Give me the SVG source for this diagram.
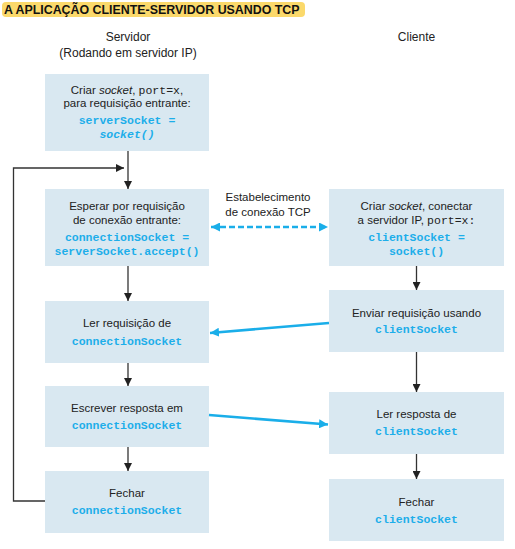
<svg xmlns="http://www.w3.org/2000/svg" width="515" height="549" viewBox="0 0 515 549">
<style>
.box{fill:#d9e8f1}
.t{font-family:"Liberation Sans",Arial,sans-serif;font-size:11.5px;fill:#222;text-anchor:middle}
.h{font-family:"Liberation Sans",Arial,sans-serif;font-size:12px;fill:#222;text-anchor:middle}
.c{font-family:"Liberation Mono","Courier New",monospace;font-size:11.5px;font-weight:bold;fill:#1daeea;text-anchor:middle}
.m{font-family:"Liberation Mono","Courier New",monospace}
.k{stroke:#333;stroke-width:1.3;fill:none}
.b{stroke:#1aaee9;stroke-width:2.6;fill:none}
</style>
<defs>
<marker id="ak" markerUnits="userSpaceOnUse" markerWidth="8" markerHeight="8" refX="8" refY="4" orient="auto"><path d="M0,0 L8,4 L0,8 z" fill="#222"/></marker>
<marker id="ab" markerUnits="userSpaceOnUse" markerWidth="9" markerHeight="9" refX="9" refY="4.5" orient="auto-start-reverse"><path d="M0,0 L9,4.5 L0,9 z" fill="#1aaee9"/></marker>
</defs>
<g id="title">
<rect x="2" y="2" width="303" height="15" rx="4" fill="#fbd96b"/>
<text x="4" y="14" font-family="Liberation Sans,Arial,sans-serif" font-size="12.4px" font-weight="bold" fill="#111">A APLICAÇÃO CLIENTE-SERVIDOR USANDO TCP</text>
</g>
<g id="headers">
<text class="h" x="128" y="40.5">Servidor</text>
<text class="h" x="128" y="57">(Rodando em servidor IP)</text>
<text class="h" x="416.5" y="40.5">Cliente</text>
</g>
<g id="s1">
<rect class="box" x="45" y="74" width="164" height="77"/>
<text class="t" x="127" y="94">Criar <tspan font-style="italic">socket</tspan>, <tspan class="m">port=x</tspan>,</text>
<text class="t" x="127" y="107">para requisição entrante:</text>
<text class="c" x="127" y="124">serverSocket =</text>
<text class="c" x="127" y="138" font-style="italic">socket()</text>
</g>
<g id="s2">
<rect class="box" x="45" y="189" width="164" height="77"/>
<text class="t" x="127" y="210">Esperar por requisição</text>
<text class="t" x="127" y="224">de conexão entrante:</text>
<text class="c" x="127" y="241">connectionSocket =</text>
<text class="c" x="127" y="255">serverSocket.accept()</text>
</g>
<g id="s3">
<rect class="box" x="45" y="301" width="164" height="62"/>
<text class="t" x="127" y="327">Ler requisição de</text>
<text class="c" x="127" y="345">connectionSocket</text>
</g>
<g id="s4">
<rect class="box" x="45" y="386" width="164" height="61"/>
<text class="t" x="127" y="412">Escrever resposta em</text>
<text class="c" x="127" y="429">connectionSocket</text>
</g>
<g id="s5">
<rect class="box" x="45" y="471" width="164" height="62"/>
<text class="t" x="127" y="497">Fechar</text>
<text class="c" x="127" y="514">connectionSocket</text>
</g>
<g id="c1">
<rect class="box" x="329" y="189" width="175" height="77"/>
<text class="t" x="416.5" y="210">Criar <tspan font-style="italic">socket</tspan>, conectar</text>
<text class="t" x="416.5" y="224">a servidor IP, <tspan class="m">port=x:</tspan></text>
<text class="c" x="416.5" y="241">clientSocket =</text>
<text class="c" x="416.5" y="255">socket()</text>
</g>
<g id="c2">
<rect class="box" x="329" y="290" width="175" height="62"/>
<text class="t" x="416.5" y="317">Enviar requisição usando</text>
<text class="c" x="416.5" y="333">clientSocket</text>
</g>
<g id="c3">
<rect class="box" x="329" y="392" width="175" height="62"/>
<text class="t" x="416.5" y="418">Ler resposta de</text>
<text class="c" x="416.5" y="435">clientSocket</text>
</g>
<g id="c4">
<rect class="box" x="329" y="479" width="175" height="62"/>
<text class="t" x="416.5" y="506">Fechar</text>
<text class="c" x="416.5" y="523">clientSocket</text>
</g>
<g id="connectors">
<line class="k" x1="128" y1="151" x2="128" y2="189" marker-end="url(#ak)"/>
<line class="k" x1="128" y1="266" x2="128" y2="301" marker-end="url(#ak)"/>
<line class="k" x1="128" y1="363" x2="128" y2="386" marker-end="url(#ak)"/>
<line class="k" x1="128" y1="447" x2="128" y2="471" marker-end="url(#ak)"/>
<polyline class="k" points="45,501 13.5,501 13.5,168 124,168" marker-end="url(#ak)"/>
<line class="k" x1="416.5" y1="266" x2="416.5" y2="290" stroke="#666" marker-end="url(#ak)"/>
<line class="k" x1="416.5" y1="352" x2="416.5" y2="392" stroke="#666" marker-end="url(#ak)"/>
<line class="k" x1="416.5" y1="454" x2="416.5" y2="479" stroke="#666" marker-end="url(#ak)"/>
<line class="b" x1="211" y1="227" x2="328" y2="227" stroke-dasharray="6,3" marker-start="url(#ab)" marker-end="url(#ab)"/>
<line class="b" x1="329" y1="323" x2="210" y2="333" marker-end="url(#ab)"/>
<line class="b" x1="209" y1="415" x2="328" y2="424.5" marker-end="url(#ab)"/>
<text class="t" x="268" y="201">Estabelecimento</text>
<text class="t" x="268" y="216">de conexão TCP</text>
</g>
</svg>
